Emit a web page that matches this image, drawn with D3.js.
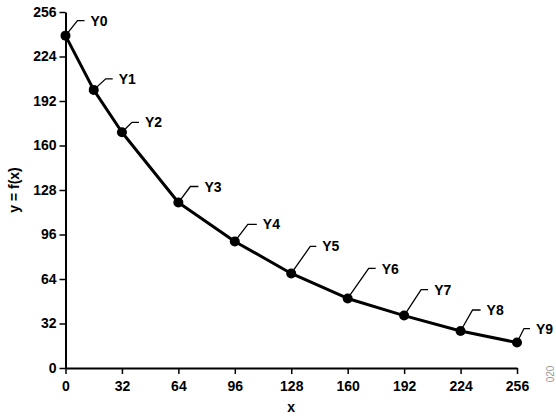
<!DOCTYPE html>
<html>
<head>
<meta charset="utf-8">
<script src="https://cdn.jsdelivr.net/npm/d3@7"></script>
<style>
  html, body { margin: 0; padding: 0; background: #fff; }
  svg { display: block; }
  text { font-family: "Liberation Sans", Arial, Helvetica, sans-serif; font-weight: bold; }
</style>
</head>
<body>
<svg id="chart" width="556" height="417"></svg>
<script>
// ---- data ----
const labels = ["Y0", "Y1", "Y2", "Y3", "Y4", "Y5", "Y6", "Y7", "Y8", "Y9"];
const xValues = [0, 16, 32, 64, 96, 128, 160, 192, 224, 256];
const yValues = [239, 200, 169.5, 119, 91, 68, 50, 37.7, 26.6, 18.3];
const xTicks = [0, 32, 64, 96, 128, 160, 192, 224, 256];
const yTicks = [0, 32, 64, 96, 128, 160, 192, 224, 256];

// ---- layout (leader line offsets in px: diagonal dx, dy, horizontal length) ----
const leaders = [
  [12, -15, 7], [12, -11, 7], [10, -10, 7], [12, -16, 8], [13, -17, 9],
  [19, -27, 6], [21, -30, 7], [17, -26, 7], [12, -21, 8], [7, -14, 6]
];

const svg = d3.select("#chart");
const x = d3.scaleLinear().domain([0, 256]).range([65.5, 517]);
const y = d3.scaleLinear().domain([0, 256]).range([368, 12]);

// axes
const xAxis = svg.append("g")
  .attr("transform", `translate(0,${y(0)})`)
  .call(d3.axisBottom(x).tickValues(xTicks).tickSize(6).tickPadding(7).tickSizeOuter(0));
const yAxis = svg.append("g")
  .attr("transform", `translate(${x(0)},0)`)
  .call(d3.axisLeft(y).tickValues(yTicks).tickSize(6).tickPadding(3).tickSizeOuter(0));

[xAxis, yAxis].forEach(g => {
  g.select(".domain").attr("stroke", "#000").attr("stroke-width", 2);
  g.selectAll(".tick line").attr("stroke", "#000").attr("stroke-width", 1.5);
  g.selectAll(".tick text").attr("fill", "#000").style("font-size", "14px")
    .style("font-family", '"Liberation Sans", Arial, sans-serif').style("font-weight", "bold");
});

// axis titles
svg.append("text")
  .attr("x", x(128)).attr("y", 412)
  .attr("text-anchor", "middle")
  .style("font-size", "14px")
  .text("x");
svg.append("text")
  .attr("transform", `translate(19,${(y(0) + y(256)) / 2}) rotate(-90)`)
  .attr("text-anchor", "middle")
  .style("font-size", "14px")
  .text("y = f(x)");

const pts = xValues.map((v, i) => ({ x: v, y: yValues[i], label: labels[i], l: leaders[i] }));

// line
svg.append("path")
  .datum(pts)
  .attr("fill", "none")
  .attr("stroke", "#000")
  .attr("stroke-width", 3)
  .attr("stroke-linejoin", "round")
  .attr("d", d3.line().x(d => x(d.x)).y(d => y(d.y)));

// leaders
svg.append("g").selectAll("path")
  .data(pts).join("path")
  .attr("fill", "none")
  .attr("stroke", "#000")
  .attr("stroke-width", 1.3)
  .attr("d", d => {
    const px = x(d.x), py = y(d.y);
    return `M${px},${py}L${px + d.l[0]},${py + d.l[1]}L${px + d.l[0] + d.l[2]},${py + d.l[1]}`;
  });

// dots
svg.append("g").selectAll("circle")
  .data(pts).join("circle")
  .attr("cx", d => x(d.x))
  .attr("cy", d => y(d.y))
  .attr("r", 5)
  .attr("fill", "#000");

// point labels
svg.append("g").selectAll("text")
  .data(pts).join("text")
  .attr("x", d => x(d.x) + d.l[0] + d.l[2] + 6)
  .attr("y", d => y(d.y) + d.l[1])
  .attr("dy", "0.36em")
  .style("font-size", "14px")
  .text(d => d.label);

// figure id
svg.append("text")
  .attr("transform", "translate(554,374) rotate(-90)")
  .attr("text-anchor", "middle")
  .style("font-size", "10px")
  .style("font-weight", "normal")
  .attr("fill", "#999")
  .text("020");
</script>
</body>
</html>
